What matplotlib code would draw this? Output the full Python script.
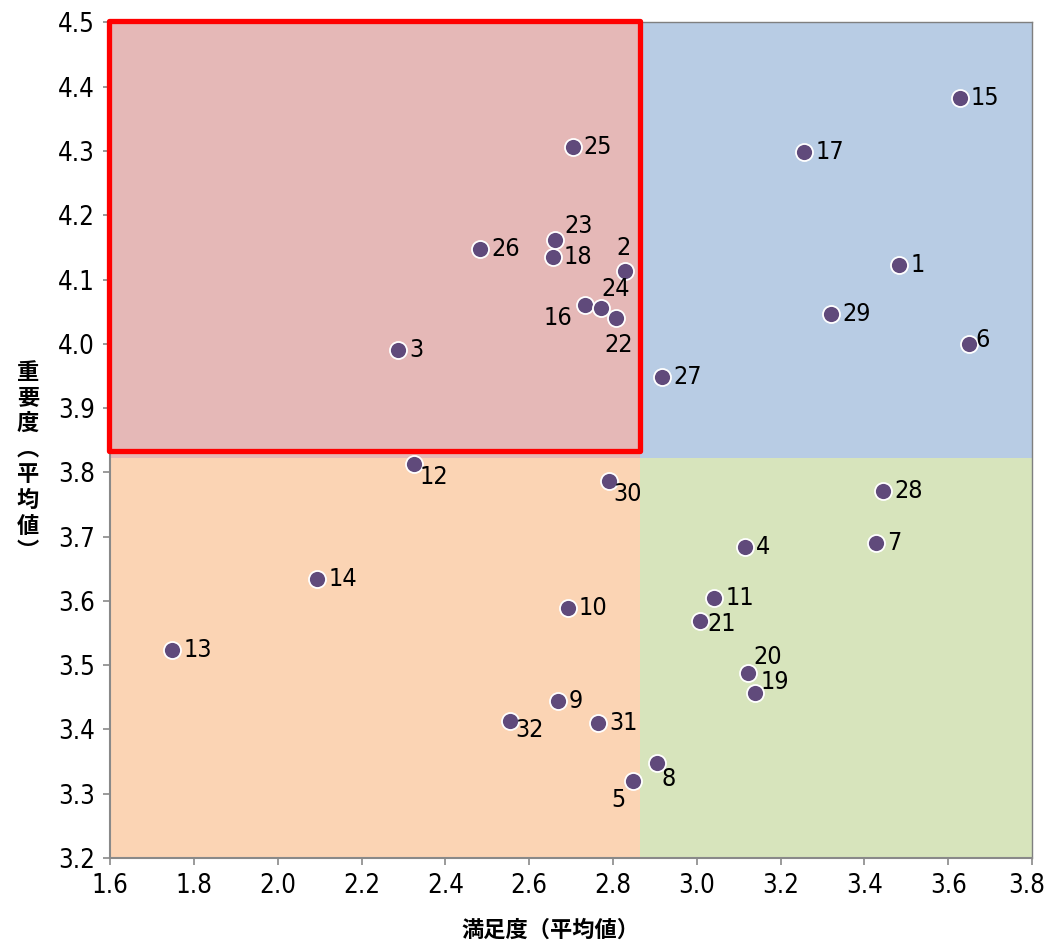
import matplotlib
matplotlib.use('Agg')
from matplotlib import pyplot as plt
from matplotlib import font_manager
from matplotlib import transforms
from matplotlib.patches import Rectangle

# narrow latin font for the numbers, if one is installed
num_font = None
for want in ['LiberationSansNarrow-Regular', 'DejaVuSansCondensed.', 'RobotoCondensed-Regular']:
    for f in font_manager.fontManager.ttflist:
        if want in f.fname:
            num_font = f.fname
            break
    if num_font:
        break

def num_prop(size):
    if num_font:
        return font_manager.FontProperties(fname=num_font, size=size)
    return font_manager.FontProperties(family='DejaVu Sans', stretch='condensed', size=size)

# 満足度 (x), 重要度 (y)
ids = ['1', '2', '3', '4', '5', '6', '7', '8', '9', '10', '11', '12', '13', '14', '15', '16',
       '17', '18', '19', '20', '21', '22', '23', '24', '25', '26', '27', '28', '29', '30', '31', '32']
satisfaction = [3.483, 2.829, 2.287, 3.115, 2.848, 3.650, 3.428, 2.905, 2.669, 2.692, 3.042, 2.325,
                1.748, 2.094, 3.628, 2.734, 3.256, 2.657, 3.140, 3.123, 3.007, 2.808, 2.662, 2.772,
                2.704, 2.483, 2.917, 3.445, 3.320, 2.791, 2.765, 2.554]
importance = [4.122, 4.114, 3.990, 3.684, 3.320, 4.000, 3.690, 3.348, 3.444, 3.589, 3.604, 3.813,
              3.523, 3.634, 4.383, 4.060, 4.298, 4.135, 3.456, 3.488, 3.568, 4.040, 4.161, 4.055,
              4.307, 4.147, 3.948, 3.771, 4.046, 3.786, 3.410, 3.413]

x_mid = 2.865
y_mid = 3.823

# label offsets in pixels (dx, dy, ha) for labels not placed to the right
offsets = {
    '2': (-2, 23, 'center'), '5': (-15, -19, 'center'), '6': (6, 4, 'left'),
    '8': (5, -16, 'left'), '12': (6, -13, 'left'), '16': (-13, -13, 'right'),
    '19': (5, 11, 'left'), '20': (5, 16, 'left'), '21': (8, -3, 'left'),
    '22': (2, -27, 'center'), '23': (9, 14, 'left'), '24': (14, 19, 'center'),
    '30': (4, -13, 'left'), '32': (5, -9, 'left'),
}

fig = plt.figure(figsize=(10.46, 9.44), dpi=100)
ax = fig.add_axes([0.1052, 0.0911, 0.8815, 0.8851])
ax.set_xlim(1.6, 3.8)
ax.set_ylim(3.2, 4.5)

# quadrant backgrounds
ax.add_patch(Rectangle((1.6, y_mid), x_mid - 1.6, 4.5 - y_mid, color='#e5b8b7', lw=0, zorder=0))
ax.add_patch(Rectangle((x_mid, y_mid), 3.8 - x_mid, 4.5 - y_mid, color='#b8cce4', lw=0, zorder=0))
ax.add_patch(Rectangle((1.6, 3.2), x_mid - 1.6, y_mid - 3.2, color='#fbd4b4', lw=0, zorder=0))
ax.add_patch(Rectangle((x_mid, 3.2), 3.8 - x_mid, y_mid - 3.2, color='#d7e4bc', lw=0, zorder=0))

# red frame around the high importance / low satisfaction area
ax.add_patch(Rectangle((1.5964, 3.833), x_mid - 1.5964, 4.502 - 3.833, fill=False,
                       edgecolor='#ff0000', lw=3.8, joinstyle='round', clip_on=False, zorder=3))

ax.scatter(satisfaction, importance, s=150, c='#604a7b', edgecolors='white', linewidths=1.3, zorder=4)

for label, xv, yv in zip(ids, satisfaction, importance):
    dx, dy, ha = offsets.get(label, (11, 0, 'left'))
    ax.annotate(label, (xv, yv), xytext=(dx * 0.72, dy * 0.72), textcoords='offset points',
                ha=ha, va='center', fontproperties=num_prop(18), color='black', zorder=5)

ax.set_xticks([1.6 + 0.2 * i for i in range(12)])
ax.set_yticks([3.2 + 0.1 * i for i in range(14)])
ax.xaxis.set_major_formatter(plt.FormatStrFormatter('%.1f'))
ax.yaxis.set_major_formatter(plt.FormatStrFormatter('%.1f'))
ax.tick_params(direction='out', length=5, width=1.2, color='#898989', pad=6)
for lab in ax.get_xticklabels() + ax.get_yticklabels():
    lab.set_fontproperties(num_prop(18.5))
# keep the last x label inside the picture
last = ax.xaxis.get_major_ticks()[-1].label1
last.set_transform(last.get_transform() + transforms.ScaledTranslation(-5 / 100, 0, fig.dpi_scale_trans))

for side in ['top', 'right']:
    ax.spines[side].set_color('#7f7f7f')
    ax.spines[side].set_linewidth(1.0)
for side in ['left', 'bottom']:
    ax.spines[side].set_color('#898989')
    ax.spines[side].set_linewidth(1.5)

fig.text(550 / 1046, 1 - 930 / 944, '満足度（平均値）', ha='center', va='center',
         fontsize=16, fontweight='bold', family=['Noto Sans CJK JP'])
fig.text(28 / 1046, 1 - 462 / 944, '重\n要\n度\n︵\n平\n均\n値\n︶', ha='center', va='center',
         fontsize=16, fontweight='bold', family=['Noto Sans CJK JP'], linespacing=1.15)

fig.savefig('out.png', dpi=100)
